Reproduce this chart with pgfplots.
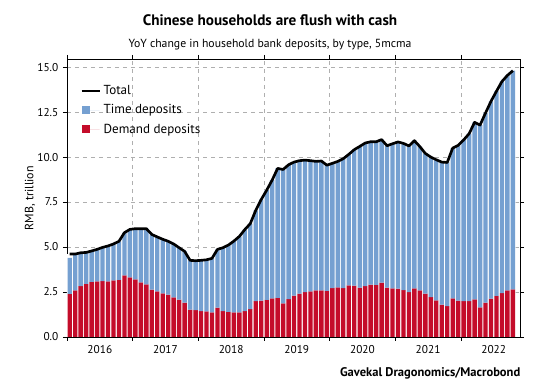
\documentclass[border=0pt]{standalone}
\usepackage{fontspec}
\setmainfont{PT Sans}
\usepackage{pgfplots}
\usepackage{pgfplotstable}
\pgfplotsset{compat=1.18}
\definecolor{timeblue}{RGB}{117,160,209}
\definecolor{demred}{RGB}{196,12,42}
\definecolor{gridgray}{RGB}{175,175,175}

\pgfplotstableread{
k red time total
1 2.39 2.01 4.61
2 2.59 1.98 4.61
3 2.83 1.85 4.68
4 2.95 1.75 4.70
5 3.06 1.72 4.78
6 3.09 1.78 4.87
7 3.11 1.87 4.98
8 3.09 1.97 5.06
9 3.15 2.02 5.17
10 3.17 2.15 5.32
11 3.43 2.37 5.80
12 3.32 2.66 5.98
13 3.20 2.82 6.02
14 3.04 2.98 6.02
15 2.93 3.09 6.02
16 2.63 3.07 5.70
17 2.54 3.02 5.56
18 2.43 3.00 5.43
19 2.35 2.97 5.32
20 2.20 2.97 5.17
21 2.08 2.88 4.96
22 1.91 2.85 4.76
23 1.52 2.74 4.26
24 1.50 2.74 4.24
25 1.44 2.82 4.26
26 1.42 2.87 4.29
27 1.37 3.00 4.37
28 1.63 3.24 4.87
29 1.44 3.52 4.96
30 1.39 3.72 5.11
31 1.37 3.96 5.33
32 1.37 4.22 5.59
33 1.44 4.53 5.97
34 1.55 4.75 6.30
35 2.00 5.04 7.04
36 2.02 5.62 7.64
37 2.07 6.09 8.16
38 2.15 6.57 8.72
39 2.17 7.20 9.37
40 1.87 7.44 9.31
41 2.11 7.46 9.57
42 2.30 7.42 9.72
43 2.41 7.39 9.80
44 2.50 7.33 9.83
45 2.54 7.26 9.80
46 2.59 7.17 9.76
47 2.59 7.19 9.78
48 2.57 6.98 9.55
49 2.72 6.93 9.65
50 2.76 7.00 9.76
51 2.72 7.19 9.91
52 2.87 7.28 10.15
53 2.85 7.56 10.41
54 2.74 7.85 10.59
55 2.83 7.95 10.78
56 2.91 7.94 10.85
57 2.89 7.96 10.85
58 3.02 7.95 10.97
59 2.74 7.89 10.63
60 2.70 8.04 10.74
61 2.69 8.15 10.84
62 2.61 8.15 10.76
63 2.50 8.12 10.62
64 2.70 8.21 10.91
65 2.59 7.99 10.58
66 2.41 7.79 10.20
67 2.22 7.78 10.00
68 2.04 7.81 9.85
69 1.80 7.92 9.72
70 1.72 7.98 9.70
71 2.15 8.35 10.50
72 2.02 8.63 10.65
73 2.00 8.95 10.95
74 2.00 9.30 11.30
75 2.09 9.84 11.93
76 1.65 10.13 11.78
77 1.91 10.54 12.45
78 2.13 10.97 13.10
79 2.28 11.38 13.66
80 2.44 11.76 14.20
81 2.59 11.95 14.54
82 2.65 12.15 14.80
}\deposits

\begin{document}
\begin{tikzpicture}
\path[use as bounding box] (-50.25pt,-39pt) rectangle (351.75pt,252.75pt);
\begin{axis}[
  scale only axis, width=339.75pt, height=208.5pt,
  xmin=0.5, xmax=83.3, ymin=0, ymax=15.45,
  ybar stacked, bar width=0.8,
  reverse stacked plots=false,
  xtick={6.5,18.5,30.5,42.5,54.5,66.5,78.5},
  xticklabels={2016,2017,2018,2019,2020,2021,2022},
  minor xtick={0.5,12.5,24.5,36.5,48.5,60.5,72.5},
  every major x tick/.append style={draw=none},
  ytick={0,2.5,5,7.5,10,12.5,15},
  tick align=outside,
  major tick length=3pt, minor tick length=3pt,
  tick style={black, line width=0.5pt},
  ymajorgrids, xminorgrids,
  major grid style={dashed, gridgray, line width=0.4pt},
  minor grid style={dashed, gridgray, line width=0.4pt},
  axis line style={black, line width=0.6pt},
  /pgf/number format/assume math mode=true,
  yticklabel style={/pgf/number format/fixed, /pgf/number format/fixed zerofill, /pgf/number format/precision=1},
  tick label style={font=\fontsize{8.5}{10}\selectfont},
  legend style={at={(0.02,0.925)}, anchor=north west, draw=none, fill=none,
    font=\fontsize{9.8}{11.5}\selectfont, row sep=2pt},
  legend cell align=left,
  reverse legend,
]
\addplot[stack plots=false, fill=white, draw=none, bar width=1, forget plot]
  table[x=k, y=total] {\deposits};
\addplot[fill=demred, draw=none,
  legend image code/.code={\fill[demred] (0pt,-3pt) rectangle (6pt,3pt); \path (0pt,0pt) -- (13pt,0pt);}]
  table[x=k, y=red] {\deposits};
\addlegendentry{Demand deposits}
\addplot[fill=timeblue, draw=none,
  legend image code/.code={\fill[timeblue] (0pt,-3pt) rectangle (6pt,3pt); \path (0pt,0pt) -- (13pt,0pt);}]
  table[x=k, y=time] {\deposits};
\addlegendentry{Time deposits}
\addplot[stack plots=false, sharp plot, black, line width=2pt, line join=round,
  legend image code/.code={\draw[black, line width=2pt] (-0.5pt,0pt) -- (9pt,0pt); \path (0pt,0pt) -- (13pt,0pt);}]
  table[x=k, y=total] {\deposits};
\addlegendentry{Total}
\end{axis}
\node[font=\bfseries\fontsize{11.4}{13}\selectfont] at (152.25pt,237.75pt) {Chinese households are flush with cash};
\node[font=\fontsize{8.8}{10.5}\selectfont] at (152.25pt,219pt) {YoY change in household bank deposits, by type, 5mcma};
\node[anchor=east, font=\bfseries\fontsize{9.4}{11}\selectfont] at (343.5pt,-27.2pt) {Gavekal Dragonomics/Macrobond};
\node[rotate=90, font=\fontsize{9}{11}\selectfont] at (-27.75pt,104pt) {RMB, trillion};
\end{tikzpicture}
\end{document}
